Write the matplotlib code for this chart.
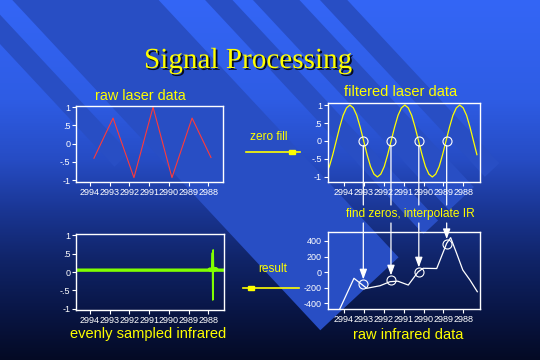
import numpy as np
import matplotlib
matplotlib.use("Agg")
import matplotlib.pyplot as plt
from matplotlib.patches import Polygon, ConnectionPatch, Rectangle
from matplotlib.transforms import blended_transform_factory
import matplotlib.patheffects as pe

# ---------------- data ----------------
xticks = [2994, 2993, 2992, 2991, 2990, 2989, 2988]
xticklabels = ["2994", "2993", "2992", "2991", "2990", "2989", "2988"]
unit_ticks = [-1, -0.5, 0, 0.5, 1]
unit_labels = ["-1", "-.5", "0", ".5", "1"]
ir_ticks = [-400, -200, 0, 200, 400]
ir_labels = ["-400", "-200", "0", "200", "400"]

raw_x = [2993.80, 2992.83, 2991.77, 2990.80, 2989.84, 2988.82, 2987.86]
raw_y = [-0.40, 0.70, -0.93, 1.00, -0.93, 0.70, -0.38]

filt_x0, filt_dx = 2994.91, 0.1725
filt_y = [-.92, -.71, -.38, 0, .38, .71, .92, 1, .92, .71, .38, 0, -.38, -.71, -.92, -1,
          -.92, -.71, -.38, 0, .38, .71, .92, 1, .92, .71, .38, 0, -.38, -.71, -.92, -1,
          -.92, -.71, -.38, 0, .38, .71, .92, 1, .92, .71, .38, 0, -.38]
filt_x = filt_x0 - filt_dx * np.arange(len(filt_y))

zero_x = [2993.03, 2991.64, 2990.24, 2988.84]
ir_at_zero = [-155, -103, 0, 365]

ir_x = [2994.22, 2993.50, 2992.86, 2992.19, 2991.69, 2991.30, 2990.77, 2990.27,
        2990.02, 2989.34, 2988.84, 2988.64, 2988.34, 2988.03, 2987.67, 2987.30]
ir_y = [-480, -81, -210, -177, -125, -118, -168, 4, 48, 45, 370, 443, 241, 26, -103, -254]

ev_x = [2994.71, 2987.97, 2987.92, 2987.86, 2987.81, 2987.79, 2987.77, 2987.75,
        2987.73, 2987.71, 2987.67, 2987.60, 2987.55, 2987.20]
ev_y = [0.05, 0.05, 0.08, 0.04, 0.10, 0.52, -0.76, 0.60, 0.05, 0.12, 0.04, 0.09, 0.05, 0.05]

# ---------------- figure ----------------
W, H = 540, 360
fig = plt.figure(figsize=(5.4, 3.6), dpi=100)
YEL = "#ffff00"
SANS = "Liberation Sans"

bg = fig.add_axes([0, 0, 1, 1])
bg.set_xlim(0, W)
bg.set_ylim(H, 0)
bg.axis("off")
stops_y = [0, 100, 160, 210, 260, 310, 360]
stops_c = np.array([(52, 102, 246), (46, 92, 228), (38, 76, 196), (26, 54, 148),
                    (16, 36, 104), (9, 22, 70), (4, 10, 36)]) / 255.0
yy = np.arange(H) + 0.5
col = np.stack([np.interp(yy, stops_y, stops_c[:, i]) for i in range(3)], axis=1)
img = np.repeat(col[:, None, :], W, axis=1)
bg.imshow(img, extent=(0, W, H, 0), aspect="auto", zorder=0)

th = np.deg2rad(47)
d = np.array([np.cos(th), np.sin(th)])
n = np.array([np.sin(th), -np.cos(th)])
band_col = (40 / 255, 78 / 255, 196 / 255)
for c0, c1, q1 in [(-30, -10, 200), (9, 116, 460), (150, 170, 460), (185, 219, 460), (234, 254, 460)]:
    q0 = -600
    pts = [c0 * n + q0 * d, c1 * n + q0 * d, c1 * n + q1 * d, c0 * n + q1 * d]
    bg.add_patch(Polygon(pts, closed=True, facecolor=band_col, edgecolor="none", zorder=1))

def pax(l, t, r, b):
    return fig.add_axes([l / W, 1 - b / H, (r - l) / W, (b - t) / H])

def style(ax):
    ax.patch.set_alpha(0)
    for s in ax.spines.values():
        s.set_color("white")
        s.set_linewidth(1.0)
    ax.tick_params(colors="white", labelsize=6.5, length=3, width=0.8, pad=1)
    ax.set_xticks(xticks)
    ax.set_xticklabels(xticklabels, family=SANS)
    for lab in ax.get_yticklabels():
        lab.set_family(SANS)

# raw laser data
ax1 = pax(76, 106, 223, 182)
ax1.plot(raw_x, raw_y, color="#ff3a3a", lw=0.8)
ax1.set_xlim(2994.71, 2987.25)
ax1.set_ylim(-1.05, 1.03)
ax1.set_yticks(unit_ticks)
ax1.set_yticklabels(unit_labels, family=SANS)
style(ax1)

# filtered laser data
ax2 = pax(327.5, 103, 479.5, 182)
ax2.plot(filt_x, filt_y, color=YEL, lw=0.9)
ax2.plot(zero_x, [0] * len(zero_x), "o", ms=6.5, mfc="none", mec="white", mew=0.8)
ax2.set_xlim(2994.83, 2987.19)
ax2.set_ylim(-1.14, 1.056)
ax2.set_yticks(unit_ticks)
ax2.set_yticklabels(unit_labels, family=SANS)
style(ax2)

# evenly sampled infrared (thick baseline, thin spike)
ax3 = pax(76, 234, 224, 310)
GRN = "#80ff00"
ax3.plot(ev_x[:5], ev_y[:5], color=GRN, lw=2.4, solid_capstyle="butt")
ax3.plot(ev_x[4:10], ev_y[4:10], color=GRN, lw=1.1)
ax3.plot(ev_x[9:], ev_y[9:], color=GRN, lw=2.4, solid_capstyle="butt")
ax3.set_xlim(2994.71, 2987.20)
ax3.set_ylim(-1.03, 1.03)
ax3.set_yticks(unit_ticks)
ax3.set_yticklabels(unit_labels, family=SANS)
style(ax3)

# raw infrared data
ax4 = pax(327.5, 232, 479.5, 309)
ax4.plot(ir_x, ir_y, color="white", lw=0.9)
ax4.plot(zero_x, ir_at_zero, "o", ms=6.5, mfc="none", mec="white", mew=0.8)
ax4.set_xlim(2994.83, 2987.19)
ax4.set_ylim(-477, 516)
ax4.set_yticks(ir_ticks)
ax4.set_yticklabels(ir_labels, family=SANS)
style(ax4)

# connectors from zero crossings to IR
tA = blended_transform_factory(ax2.transData, fig.transFigure)
tB = blended_transform_factory(ax4.transData, fig.transFigure)
for zx, iv in zip(zero_x, ir_at_zero):
    c1 = ConnectionPatch(xyA=(zx, 0), coordsA=ax2.transData,
                         xyB=(zx, 1 - 205 / H), coordsB=tA,
                         color="white", lw=0.9, shrinkA=3.2, shrinkB=0)
    fig.add_artist(c1)
    c2 = ConnectionPatch(xyA=(zx, 1 - 223 / H), coordsA=tB,
                         xyB=(zx, iv), coordsB=ax4.transData,
                         color="white", lw=0.9, shrinkA=0, shrinkB=3.3,
                         arrowstyle="-|>,head_length=0.6,head_width=0.22")
    fig.add_artist(c2)

# texts
fig.text(248 / W, 1 - 68 / H, "Signal Processing", family="Liberation Serif",
         size=21, color=YEL, ha="center", va="baseline",
         path_effects=[pe.withSimplePatchShadow(offset=(1.3, -1.3), shadow_rgbFace="black", alpha=0.85)])
labels = [("raw laser data", 140, 100, 10.4), ("filtered laser data", 401, 96, 10.5),
          ("zero fill", 268.5, 140, 8.6), ("result", 272.5, 272, 8.6),
          ("find zeros, interpolate IR", 410, 217, 8.6),
          ("raw infrared data", 408, 339, 10.5), ("evenly sampled infrared", 148, 338, 10.5)]
for s, x, y, fs in labels:
    fig.text(x / W, 1 - y / H, s, family=SANS, size=fs, color=YEL, ha="center", va="baseline")

# yellow arrows
bg.plot([246, 300], [152, 152], color=YEL, lw=1.2, zorder=5)
bg.add_patch(Rectangle((289, 150), 6, 4, color=YEL, zorder=5))
bg.plot([243, 298.5], [288.3, 288.3], color=YEL, lw=1.2, zorder=5)
bg.add_patch(Rectangle((248, 286.3), 6, 4, color=YEL, zorder=5))

fig.savefig("out.png", dpi=100)
